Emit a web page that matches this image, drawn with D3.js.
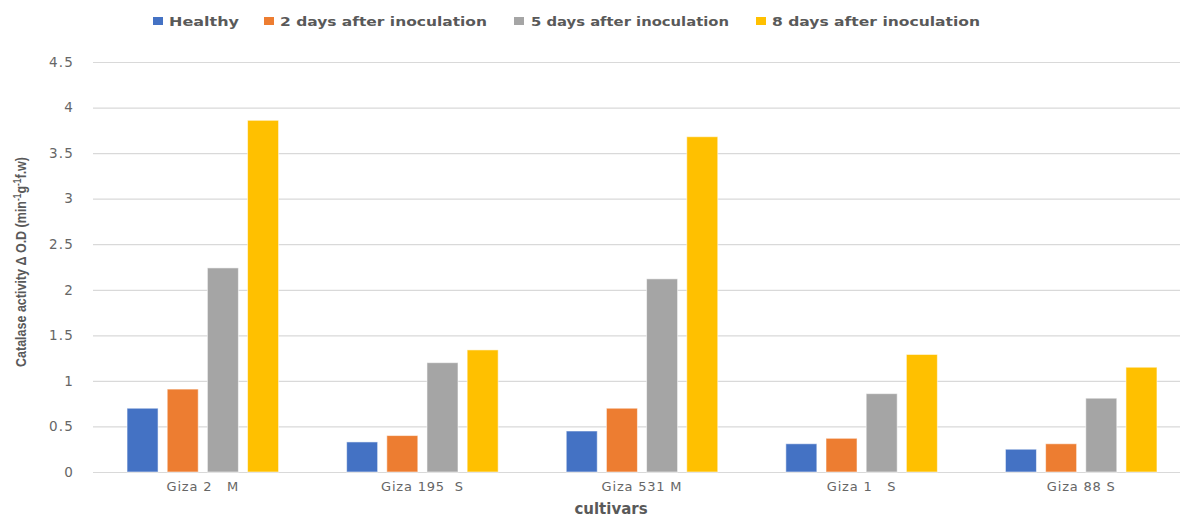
<!DOCTYPE html>
<html>
<head>
<meta charset="utf-8">
<script src="https://cdn.jsdelivr.net/npm/d3@7"></script>
<style>
  html, body { margin: 0; padding: 0; background: #fff; }
  svg { display: block; }
  text { white-space: pre; }
</style>
</head>
<body>
<svg id="chart" width="1180" height="517"></svg>
<script>
// Cultivars and catalase activity per sampling time
const cultivars = ["Giza 2   M", "Giza 195  S", "Giza 531 M", "Giza 1   S", "Giza 88 S"];
const seriesNames = ["Healthy", "2 days after inoculation", "5 days after inoculation", "8 days after inoculation"];
const healthy = [0.70, 0.33, 0.45, 0.31, 0.25];
const day2 = [0.91, 0.40, 0.70, 0.37, 0.31];
const day5 = [2.24, 1.20, 2.12, 0.86, 0.81];
const day8 = [3.86, 1.34, 3.68, 1.29, 1.15];
const yTicks = [0, 0.5, 1, 1.5, 2, 2.5, 3, 3.5, 4, 4.5];
const seriesColors = ["#4472C4", "#ED7D31", "#A5A5A5", "#FFC000"];

const seriesValues = [healthy, day2, day5, day8];
const rows = cultivars.map((c, i) => ({
  cultivar: c,
  values: seriesNames.map((s, j) => ({ series: s, value: seriesValues[j][i] }))
}));

const svg = d3.select("#chart");
const plotLeft = 93, plotRight = 1191, plotTop = 62, plotBottom = 472;

const y = d3.scaleLinear().domain([0, 4.5]).range([plotBottom, plotTop]);
const x0 = d3.scaleBand().domain(cultivars).range([plotLeft, plotRight])
  .paddingInner(0.31).paddingOuter(0.155);
const x1 = d3.scaleBand().domain(seriesNames).range([0, x0.bandwidth()]).paddingInner(0.228);
const color = d3.scaleOrdinal().domain(seriesNames).range(seriesColors);

// Horizontal gridlines with tick labels
const yAxis = d3.axisLeft(y).tickValues(yTicks).tickSize(-(plotRight - plotLeft)).tickPadding(19)
  .tickFormat(d3.format("~g"));
const gy = svg.append("g").attr("transform", `translate(${plotLeft},0)`).call(yAxis);
gy.select(".domain").remove();
gy.selectAll(".tick line").attr("stroke", "#d9d9d9").attr("stroke-width", 1.2);
gy.selectAll(".tick text")
  .attr("fill", "#666666")
  .style("font-family", "'DejaVu Sans', sans-serif")
  .style("font-size", "13.5px")
  .style("letter-spacing", "1.2px");

// Bars
const groups = svg.append("g").selectAll("g")
  .data(rows).join("g")
  .attr("transform", d => `translate(${x0(d.cultivar)},0)`);
groups.selectAll("rect")
  .data(d => d.values).join("rect")
  .attr("x", d => x1(d.series))
  .attr("width", x1.bandwidth())
  .attr("y", d => y(d.value))
  .attr("height", d => y(0) - y(d.value))
  .attr("fill", d => color(d.series))
  .attr("stroke", "#ffffff")
  .attr("stroke-opacity", 0.55)
  .attr("stroke-width", 1);

// Category axis labels
const xAxis = d3.axisBottom(x0).tickSize(0).tickPadding(10);
const gx = svg.append("g").attr("transform", `translate(0,${plotBottom})`).call(xAxis);
gx.select(".domain").remove();
gx.selectAll(".tick text")
  .attr("fill", "#666666")
  .style("font-family", "'DejaVu Sans', sans-serif")
  .style("font-size", "13px")
  .style("letter-spacing", "0.8px");

// Axis titles
svg.append("text")
  .attr("x", 611).attr("y", 514)
  .attr("text-anchor", "middle")
  .attr("fill", "#595959")
  .style("font-family", "'DejaVu Sans', sans-serif")
  .style("font-weight", "bold")
  .style("font-size", "15px")
  .text("cultivars");

const yTitle = svg.append("text")
  .attr("transform", "translate(26,262) rotate(-90)")
  .attr("text-anchor", "middle")
  .attr("fill", "#595959")
  .attr("textLength", 210)
  .attr("lengthAdjust", "spacingAndGlyphs")
  .style("font-family", "'Liberation Sans Narrow', 'Liberation Sans', sans-serif")
  .style("font-weight", "bold")
  .style("font-size", "15px");
yTitle.append("tspan").text("Catalase activity \u0394 O.D (min");
yTitle.append("tspan").attr("baseline-shift", "super").style("font-size", "10px").text("-1");
yTitle.append("tspan").text("g");
yTitle.append("tspan").attr("baseline-shift", "super").style("font-size", "10px").text("-1");
yTitle.append("tspan").text("f.w)");

// Legend
const legendItems = [
  { name: seriesNames[0], sx: 153, tx: 169, w: 70 },
  { name: seriesNames[1], sx: 264, tx: 280, w: 207 },
  { name: seriesNames[2], sx: 514, tx: 531, w: 198 },
  { name: seriesNames[3], sx: 756, tx: 772, w: 208 }
];
const legend = svg.append("g");
legendItems.forEach(item => {
  legend.append("rect")
    .attr("x", item.sx).attr("y", 17)
    .attr("width", 10).attr("height", 8)
    .attr("fill", color(item.name));
  legend.append("text")
    .attr("x", item.tx).attr("y", 26)
    .attr("fill", "#595959")
    .attr("textLength", item.w)
    .attr("lengthAdjust", "spacingAndGlyphs")
    .style("font-family", "'DejaVu Sans', sans-serif")
    .style("font-weight", "bold")
    .style("font-size", "13px")
    .text(item.name);
});
</script>
</body>
</html>
